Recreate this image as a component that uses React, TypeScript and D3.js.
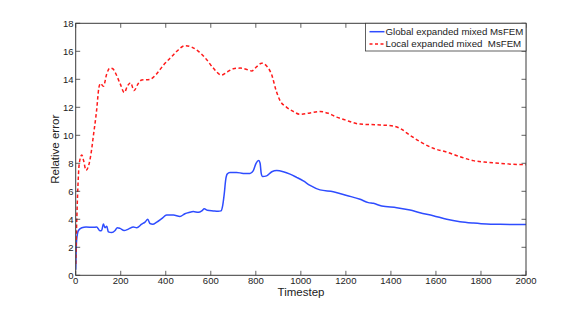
import React from "react";
import * as d3 from "d3";

const xTicks = [0, 200, 400, 600, 800, 1000, 1200, 1400, 1600, 1800, 2000];
const yTicks = [0, 2, 4, 6, 8, 10, 12, 14, 16, 18];

const seriesNames = ["Global expanded mixed MsFEM", "Local expanded mixed  MsFEM"];

const globalX = [0, 4, 12, 27, 46, 78, 93, 108, 115, 123, 130, 138, 145, 160, 175, 185, 197, 215, 234, 256, 271, 293, 308, 320, 330, 342, 360, 382, 404, 434, 463, 485, 507, 522, 545, 560, 571, 585, 611, 633, 645, 653, 660, 666, 673, 685, 715, 744, 774, 789, 801, 813, 819, 824, 830, 848, 871, 893, 922, 952, 981, 1011, 1041, 1085, 1144, 1204, 1263, 1300, 1322, 1359, 1426, 1485, 1529, 1588, 1648, 1707, 1766, 1825, 1885, 2000];
const globalY = [0.4, 2.5, 3.2, 3.4, 3.45, 3.43, 3.45, 3.18, 3.2, 3.66, 3.4, 3.5, 3.1, 3.05, 3.2, 3.4, 3.35, 3.2, 3.3, 3.45, 3.4, 3.65, 3.8, 4.0, 3.7, 3.65, 3.8, 4.05, 4.3, 4.3, 4.2, 4.4, 4.5, 4.55, 4.5, 4.6, 4.75, 4.65, 4.6, 4.57, 4.6, 5.0, 5.85, 6.8, 7.23, 7.35, 7.35, 7.28, 7.28, 7.48, 8.0, 8.2, 8.0, 7.28, 7.05, 7.1, 7.4, 7.48, 7.4, 7.23, 7.0, 6.74, 6.42, 6.1, 5.97, 5.7, 5.43, 5.19, 5.14, 4.95, 4.83, 4.66, 4.47, 4.26, 4.0, 3.83, 3.73, 3.66, 3.64, 3.62];

const localX = [0, 4, 9, 16, 27, 35, 46, 60, 70, 78, 93, 103, 110, 123, 138, 152, 165, 175, 197, 216, 229, 244, 259, 278, 293, 330, 360, 389, 419, 449, 485, 515, 545, 582, 611, 648, 671, 700, 730, 760, 782, 804, 826, 848, 871, 890, 907, 937, 967, 996, 1041, 1085, 1122, 1159, 1196, 1263, 1352, 1411, 1440, 1485, 1529, 1588, 1648, 1707, 1766, 1825, 1885, 1944, 2000];
const localY = [0.8, 3.5, 6.0, 8.0, 8.6, 8.2, 7.5, 8.0, 8.9, 9.9, 11.8, 13.4, 13.7, 13.5, 14.4, 14.8, 14.75, 14.5, 13.7, 13.05, 13.5, 13.75, 13.2, 13.7, 13.95, 14.0, 14.4, 15.0, 15.5, 16.0, 16.4, 16.3, 16.0, 15.4, 14.8, 14.3, 14.5, 14.75, 14.8, 14.7, 14.6, 14.9, 15.15, 14.95, 14.3, 13.2, 12.5, 12.0, 11.7, 11.5, 11.6, 11.7, 11.57, 11.3, 11.1, 10.8, 10.74, 10.66, 10.5, 10.0, 9.55, 9.07, 8.8, 8.47, 8.19, 8.07, 8.0, 7.93, 7.9];

const W = 581;
const H = 310;
const left = 75.7;
const right = 526;
const top = 23.3;
const bottom = 275.3;
const font = "'Liberation Sans', Arial, Helvetica, sans-serif";
const axisColor = "#3a3a3a";
const blue = "#2e4cff";
const red = "#ff1a1a";

export default function App() {
  const x = d3.scaleLinear().domain([0, 2000]).range([left, right]);
  const y = d3.scaleLinear().domain([0, 18]).range([bottom, top]);

  const line = d3
    .line<[number, number]>()
    .x((d) => x(d[0]))
    .y((d) => y(d[1]))
    .curve(d3.curveMonotoneX);

  const gPts = globalX.map((v, i) => [v, globalY[i]] as [number, number]);
  const lPts = localX.map((v, i) => [v, localY[i]] as [number, number]);
  const tl = 4.5;

  return (
    <svg
      width={W}
      height={H}
      style={{ position: "absolute", left: 0, top: 0, background: "#fff" }}
      fontFamily={font}
    >
      <defs>
        <clipPath id="plot">
          <rect x={left} y={top} width={right - left} height={bottom - top} />
        </clipPath>
      </defs>
      <rect x={0} y={0} width={W} height={H} fill="#fff" />
      <g clipPath="url(#plot)">
        <path d={line(gPts) || ""} fill="none" stroke={blue} strokeWidth={1.5} strokeLinejoin="round" />
        <path d={line(lPts) || ""} fill="none" stroke={red} strokeWidth={1.5} strokeDasharray="3.5,2.5" />
      </g>
      {xTicks.map((t) => (
        <g key={"x" + t}>
          <line x1={x(t)} x2={x(t)} y1={bottom} y2={bottom - tl} stroke={axisColor} strokeWidth={0.8} />
          <line x1={x(t)} x2={x(t)} y1={top} y2={top + tl} stroke={axisColor} strokeWidth={0.8} />
          <text x={x(t)} y={284} fontSize={9.5} textAnchor="middle" fill="#222">
            {t}
          </text>
        </g>
      ))}
      {yTicks.map((t) => (
        <g key={"y" + t}>
          <line x1={left} x2={left + tl} y1={y(t)} y2={y(t)} stroke={axisColor} strokeWidth={0.8} />
          <line x1={right} x2={right - tl} y1={y(t)} y2={y(t)} stroke={axisColor} strokeWidth={0.8} />
          <text x={73.5} y={y(t)} dy="0.35em" fontSize={9.5} textAnchor="end" fill="#222">
            {t}
          </text>
        </g>
      ))}
      <rect x={left} y={top} width={right - left} height={bottom - top} fill="none" stroke={axisColor} strokeWidth={1} />
      <text x={301} y={295.5} fontSize={11.5} textAnchor="middle" fill="#222">
        Timestep
      </text>
      <text
        transform={`translate(59,${(top + bottom) / 2}) rotate(-90)`}
        fontSize={11.5}
        textAnchor="middle"
        fill="#222"
      >
        Relative error
      </text>
      <g>
        <rect x={365.5} y={top} width={right - 365.5} height={27.7} fill="#fff" stroke={axisColor} strokeWidth={0.8} />
        <line x1={369.5} x2={384.5} y1={31.7} y2={31.7} stroke={blue} strokeWidth={1.5} />
        <text x={385.5} y={35} fontSize={9.7} fill="#222">
          {seriesNames[0]}
        </text>
        <line x1={369.5} x2={384.5} y1={44} y2={44} stroke={red} strokeWidth={1.5} strokeDasharray="3,2.5" />
        <text x={385.5} y={47.3} fontSize={9.7} fill="#222" style={{ whiteSpace: "pre" }}>
          {seriesNames[1]}
        </text>
      </g>
    </svg>
  );
}
